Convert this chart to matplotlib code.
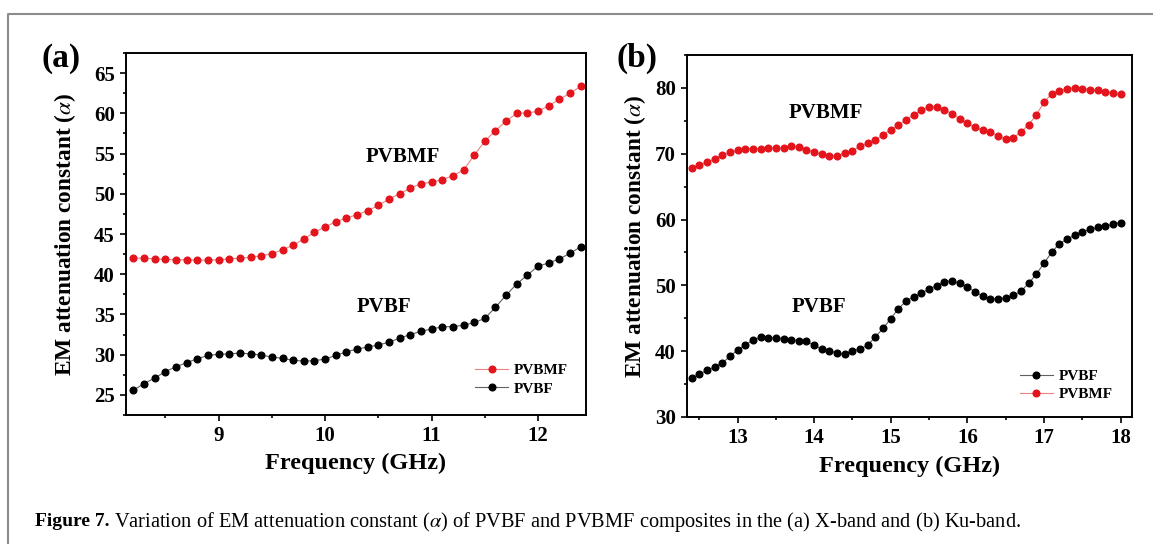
import numpy as np
import matplotlib.pyplot as plt
from matplotlib.ticker import MultipleLocator
from matplotlib.lines import Line2D

plt.rcParams['font.family'] = 'Liberation Serif'
plt.rcParams['mathtext.fontset'] = 'stix'

# X-band data (GHz)
freq_x = np.round(np.arange(8.2, 12.41, 0.1), 1)
pvbmf_x = [42.0, 42.0, 41.9, 41.85, 41.8, 41.8, 41.75, 41.75, 41.8, 41.9,
           42.0, 42.1, 42.3, 42.55, 43.05, 43.6, 44.4, 45.2, 45.9, 46.5,
           47.0, 47.4, 47.9, 48.55, 49.35, 50.0, 50.7, 51.25, 51.45, 51.75,
           52.25, 52.95, 54.8, 56.55, 57.85, 59.05, 60.0, 60.05, 60.25, 60.95,
           61.75, 62.5, 63.35]
pvbf_x = [25.6, 26.4, 27.1, 27.9, 28.5, 29.0, 29.5, 29.9, 30.05, 30.1,
          30.2, 30.1, 29.95, 29.7, 29.55, 29.3, 29.2, 29.25, 29.45, 29.9,
          30.35, 30.7, 30.95, 31.2, 31.55, 32.05, 32.5, 32.9, 33.2, 33.45,
          33.5, 33.65, 34.0, 34.5, 35.9, 37.4, 38.8, 39.9, 41.0, 41.4,
          41.9, 42.6, 43.4]

# Ku-band data (GHz)
freq_ku = np.round(np.arange(12.4, 18.01, 0.1), 1)
pvbmf_ku = [67.8, 68.3, 68.7, 69.2, 69.75, 70.2, 70.5, 70.7, 70.7, 70.7,
            70.8, 70.9, 70.9, 71.1, 71.0, 70.6, 70.25, 69.95, 69.7, 69.7,
            70.1, 70.45, 71.1, 71.6, 72.1, 72.9, 73.65, 74.3, 75.2, 75.9,
            76.7, 77.05, 77.1, 76.6, 76.1, 75.3, 74.6, 74.0, 73.65, 73.25,
            72.75, 72.2, 72.4, 73.3, 74.4, 75.9, 77.8, 79.1, 79.6, 79.9,
            80.0, 79.9, 79.75, 79.65, 79.45, 79.2, 79.0]
pvbf_ku = [35.9, 36.5, 37.1, 37.6, 38.2, 39.2, 40.2, 40.9, 41.7, 42.1,
           42.05, 42.0, 41.9, 41.7, 41.6, 41.5, 40.9, 40.3, 40.05, 39.75,
           39.55, 40.05, 40.35, 40.9, 42.2, 43.45, 44.95, 46.45, 47.6, 48.3,
           48.8, 49.45, 49.95, 50.55, 50.7, 50.3, 49.8, 49.0, 48.4, 47.95,
           47.95, 48.1, 48.5, 49.1, 50.3, 51.7, 53.35, 55.0, 56.3, 57.0,
           57.6, 58.1, 58.5, 58.8, 59.0, 59.3, 59.55]

W, H = 1153, 544
fig = plt.figure(figsize=(W / 100, H / 100), dpi=100)


def px_axes(l, t, r, b):
    return fig.add_axes([l / W, 1 - b / H, (r - l) / W, (b - t) / H])


red = '#e3141c'
red_line = '#f08080'
black_line = '#606060'
bold = dict(fontweight='bold')


def style(ax):
    for s in ax.spines.values():
        s.set_linewidth(1.4)
    ax.tick_params(which='both', direction='out', width=1.2, labelsize=15,
                   top=False, right=False)
    ax.tick_params(which='major', length=4.5, pad=3.5)
    ax.tick_params(which='minor', length=2.5)
    ax.xaxis.set_minor_locator(MultipleLocator(0.5))
    plt.setp(ax.get_xticklabels() + ax.get_yticklabels(), fontweight='bold')


# panel (a)
ax_a = px_axes(126, 53, 586, 415)
l1, = ax_a.plot(freq_x, pvbmf_x, '-o', color=red_line, mfc=red, mec=red,
                ms=4.8, lw=0.8, label='PVBMF')
l2, = ax_a.plot(freq_x, pvbf_x, '-o', color=black_line, mfc='black', mec='black',
                ms=4.8, lw=0.8, label='PVBF')
ax_a.set_xlim(8.13, 12.45)
ax_a.set_ylim(22.5, 67.5)
ax_a.set_xticks([9, 10, 11, 12])
ax_a.yaxis.set_major_locator(MultipleLocator(5))
ax_a.yaxis.set_minor_locator(MultipleLocator(2.5))
style(ax_a)
ax_a.set_xlabel('Frequency (GHz)', fontsize=17.5, **bold)
ax_a.set_ylabel(r'EM attenuation constant ($\alpha$)', fontsize=16.8, **bold)
ax_a.xaxis.set_label_coords(0.5, -0.105)
ax_a.yaxis.set_label_coords(-0.104, 0.5)
ax_a.text(10.73, 54.6, 'PVBMF', fontsize=15, ha='center', va='center', **bold)
ax_a.text(10.55, 35.9, 'PVBF', fontsize=15, ha='center', va='center', **bold)
ax_a.legend(handles=[l1, l2], loc='center left', bbox_to_anchor=(0.759, 0.098),
            frameon=False, prop={'size': 11, 'weight': 'bold'}, numpoints=1,
            handlelength=2.15, handletextpad=0.4, labelspacing=0.3,
            borderpad=0, borderaxespad=0)

# panel (b)
ax_b = px_axes(687, 55, 1132, 417)
l3, = ax_b.plot(freq_ku, pvbf_ku, '-o', color=black_line, mfc='black', mec='black',
                ms=4.8, lw=0.8, label='PVBF')
l4, = ax_b.plot(freq_ku, pvbmf_ku, '-o', color=red_line, mfc=red, mec=red,
                ms=4.8, lw=0.8, label='PVBMF')
ax_b.set_xlim(12.34, 18.15)
ax_b.set_ylim(30, 85)
ax_b.set_xticks([13, 14, 15, 16, 17, 18])
ax_b.yaxis.set_major_locator(MultipleLocator(10))
ax_b.yaxis.set_minor_locator(MultipleLocator(5))
style(ax_b)
ax_b.set_xlabel('Frequency (GHz)', fontsize=17.5, **bold)
ax_b.set_ylabel(r'EM attenuation constant ($\alpha$)', fontsize=16.8, **bold)
ax_b.xaxis.set_label_coords(0.5, -0.108)
ax_b.yaxis.set_label_coords(-0.088, 0.5)
ax_b.text(14.15, 76.2, 'PVBMF', fontsize=15, ha='center', va='center', **bold)
ax_b.text(14.06, 46.7, 'PVBF', fontsize=15, ha='center', va='center', **bold)
ax_b.legend(handles=[l3, l4], loc='center left', bbox_to_anchor=(0.748, 0.088),
            frameon=False, prop={'size': 11, 'weight': 'bold'}, numpoints=1,
            handlelength=2.15, handletextpad=0.4, labelspacing=0.3,
            borderpad=0, borderaxespad=0)

# panel letters
fig.text(61 / W, 1 - 58 / H, '(a)', fontsize=24, ha='center', va='center', **bold)
fig.text(637 / W, 1 - 58 / H, '(b)', fontsize=24, ha='center', va='center', **bold)

# grey frame around the figure
fig.add_artist(Line2D([8 / W, 8 / W, 1.0], [0.0, 1 - 14 / H, 1 - 14 / H],
                      transform=fig.transFigure, color='#8c8c8c', lw=1.5))

# caption
cap_y = 1 - 522 / H
t1 = fig.text(35 / W, cap_y, 'Figure 7.', fontsize=14, va='center', **bold)
fig.canvas.draw()
bb = t1.get_window_extent()
fig.text(bb.x1 / W + 5 / W, cap_y,
         r'Variation of EM attenuation constant ($\alpha$) of PVBF and PVBMF '
         'composites in the (a) X-band and (b) Ku-band.',
         fontsize=14.7, fontweight='normal', va='center')

fig.savefig('out.png', dpi=100)
